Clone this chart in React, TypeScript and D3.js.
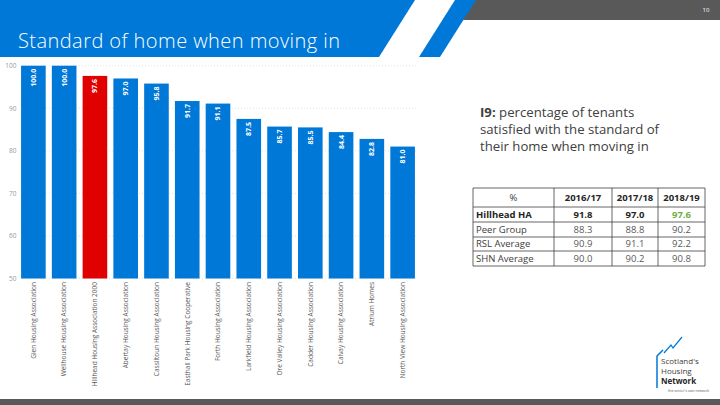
import React from "react";
import * as d3 from "d3";

// bar chart data
const categories = [
  "Glen Housing Association",
  "Wellhouse Housing Association",
  "Hillhead Housing Association 2000",
  "Abertay Housing Association",
  "Cassiltoun Housing Association",
  "Easthall Park Housing Cooperative",
  "Forth Housing Association",
  "Larkfield Housing Association",
  "Ore Valley Housing Association",
  "Cadder Housing Association",
  "Calvay Housing Association",
  "Atrium Homes",
  "North View Housing Association",
];
const values = [100.0, 100.0, 97.6, 97.0, 95.8, 91.7, 91.1, 87.5, 85.7, 85.5, 84.4, 82.8, 81.0];
const highlight = "Hillhead Housing Association 2000";
const yTicks = [50, 60, 70, 80, 90, 100];

// table data
const tableYears = ["2016/17", "2017/18", "2018/19"];
const tableLabels = ["Hillhead HA", "Peer Group", "RSL Average", "SHN Average"];
const hillheadRow = [91.8, 97.0, 97.6];
const peerRow = [88.3, 88.8, 90.2];
const rslRow = [90.9, 91.1, 92.2];
const shnRow = [90.0, 90.2, 90.8];

const BLUE = "#0078d7";
const RED = "#e00000";
const FONT = "'Open Sans', 'Liberation Sans', sans-serif";

export default function App() {
  const x = d3.scaleBand<string>()
    .domain(categories)
    .range([18, 418])
    .paddingInner(0.2)
    .paddingOuter(0.1);
  const y = d3.scaleLinear().domain([50, 100]).range([278.5, 65.7]);

  // table layout
  const colX = [473, 554, 612, 658, 705];
  const rowY = [188, 207, 222, 237, 251, 266];
  const rows = [hillheadRow, peerRow, rslRow, shnRow];

  return (
    <svg width={720} height={405} style={{ position: "absolute", left: 0, top: 0, background: "#fff" }}>
      {/* header */}
      <polygon points="475,0 720,0 720,20 462,20" fill="#595959" />
      <polygon points="0,0 415,0 379,57 0,57" fill={BLUE} />
      <polygon points="455,0 476,0 440,57 419,57" fill={BLUE} />
      <text x={18} y={48} fill="#fff" fontFamily={FONT} fontWeight={300} fontSize={20} textLength={322}>
        Standard of home when moving in
      </text>
      <text x={706} y={12} fill="#fff" fontFamily={FONT} fontSize={6} textAnchor="middle">10</text>

      {/* grid + y ticks */}
      {yTicks.map(t => (
        <g key={t}>
          <line x1={22} x2={417} y1={y(t)} y2={y(t)} stroke="#d9d9d9" strokeWidth={0.8} strokeDasharray="1,2" />
          <text x={16.5} y={y(t)} dy="0.35em" textAnchor="end" fontFamily={FONT} fontSize={6.5} fill="#999">{t}</text>
        </g>
      ))}

      {/* bars */}
      {categories.map((c, i) => {
        const cx = (x(c) || 0) + x.bandwidth() / 2;
        return (
          <g key={c}>
            <rect x={x(c)} y={y(values[i])} width={x.bandwidth()} height={y(50) - y(values[i])}
              fill={c === highlight ? RED : BLUE} />
            <text transform={`translate(${cx},${y(values[i]) + 3}) rotate(-90)`} dy="0.35em" textAnchor="end"
              fontFamily={FONT} fontSize={7} fontWeight="bold" fill="#fff">
              {values[i].toFixed(1)}
            </text>
            <text transform={`translate(${cx},282) rotate(-90)`} dy="0.35em" textAnchor="end"
              fontFamily={FONT} fontSize={6.5} fill="#595959">
              {c}
            </text>
          </g>
        );
      })}

      {/* description */}
      <g fontFamily={FONT} fontSize={13.2} fill="#404040">
        <text x={480} y={117}>
          <tspan fontWeight="bold">I9:</tspan> percentage of tenants
        </text>
        <text x={480} y={134}>satisfied with the standard of</text>
        <text x={480} y={151}>their home when moving in</text>
      </g>

      {/* table */}
      <g fontFamily={FONT} fontSize={9.5} fill="#404040">
        {rowY.map((ry, i) => (
          <line key={"h" + i} x1={colX[0]} x2={colX[4]} y1={ry} y2={ry} stroke="#404040" strokeWidth={0.8} />
        ))}
        {colX.map((cx, i) => (
          <line key={"v" + i} x1={cx} x2={cx} y1={rowY[0]} y2={rowY[5]} stroke="#404040" strokeWidth={0.8} />
        ))}
        <text x={(colX[0] + colX[1]) / 2} y={(rowY[0] + rowY[1]) / 2} dy="0.35em" textAnchor="middle">%</text>
        {tableYears.map((yr, j) => (
          <text key={yr} x={(colX[j + 1] + colX[j + 2]) / 2} y={(rowY[0] + rowY[1]) / 2} dy="0.35em"
            textAnchor="middle" fontWeight="bold" fill="#262626">{yr}</text>
        ))}
        {tableLabels.map((lab, r) => (
          <g key={lab}>
            <text x={colX[0] + 3} y={(rowY[r + 1] + rowY[r + 2]) / 2} dy="0.35em"
              fontWeight={r === 0 ? "bold" : "normal"} fill={r === 0 ? "#262626" : "#404040"}>{lab}</text>
            {rows[r].map((v, j) => (
              <text key={j} x={(colX[j + 1] + colX[j + 2]) / 2} y={(rowY[r + 1] + rowY[r + 2]) / 2} dy="0.35em"
                textAnchor="middle" fontWeight={r === 0 ? "bold" : "normal"}
                fill={r === 0 ? (j === 2 ? "#70ad47" : "#262626") : "#595959"}>
                {v.toFixed(1)}
              </text>
            ))}
          </g>
        ))}
      </g>

      {/* logo */}
      <g>
        <path d="M657,388 L657,356 L663,350" fill="none" stroke={BLUE} strokeWidth={1.5} />
        <path d="M664,353 L671,345 L673,348 L682,337" fill="none" stroke={BLUE} strokeWidth={1.2} />
        <text x={661} y={364} fontFamily={FONT} fontSize={8} fill="#404040">Scotland's</text>
        <text x={661} y={374} fontFamily={FONT} fontSize={8} fill="#404040">Housing</text>
        <text x={661} y={384} fontFamily={FONT} fontSize={8} fontWeight="bold" fill="#262626">Network</text>
        <text x={668} y={392} fontFamily={FONT} fontSize={3.5} fill="#595959">the sector's own network</text>
      </g>

      {/* footer band */}
      <rect x={0} y={399} width={720} height={6} fill="#595959" />
    </svg>
  );
}
